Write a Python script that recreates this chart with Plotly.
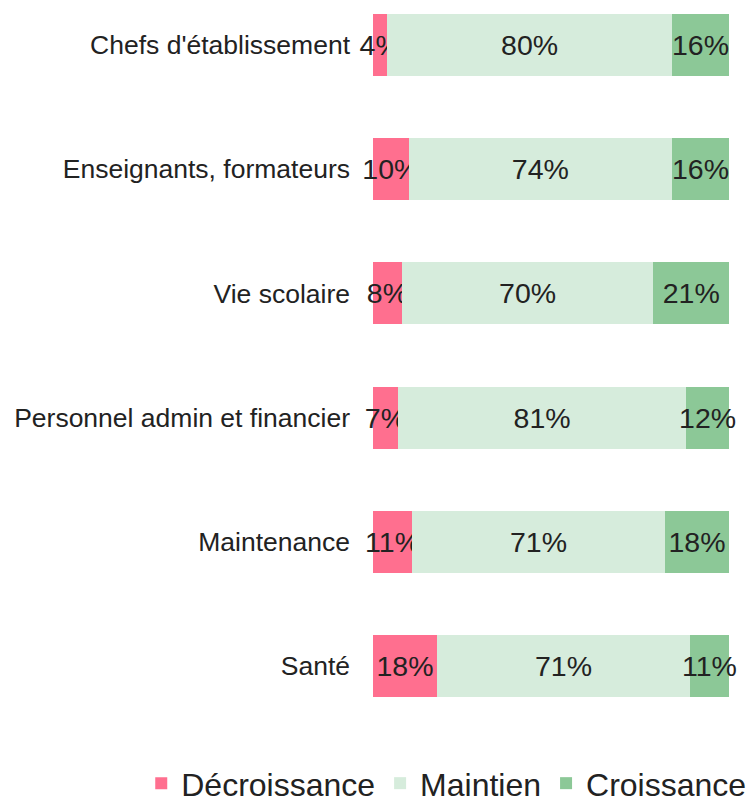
import plotly.graph_objects as go

categories = ["Chefs d'établissement", "Enseignants, formateurs", "Vie scolaire",
              "Personnel admin et financier", "Maintenance", "Santé"]
decroissance = [4, 10, 8, 7, 11, 18]
maintien = [80, 74, 70, 81, 71, 71]
croissance = [16, 16, 21, 12, 18, 11]

series = [("Décroissance", decroissance, "#FF6F8F"),
          ("Maintien", maintien, "#D6ECDC"),
          ("Croissance", croissance, "#8CC897")]

FONT = "Liberation Sans, Arial, sans-serif"
fig = go.Figure()
for name, vals, col in series:
    fig.add_trace(go.Bar(
        y=categories, x=vals, name=name, orientation="h",
        marker=dict(color=col, line=dict(width=0)),
        text=[f"{v}%" for v in vals], textposition="inside",
        insidetextanchor="middle", constraintext="none", textangle=0,
        insidetextfont=dict(size=28.5, color="#222222", family=FONT),
        cliponaxis=False, width=0.5,
    ))

fig.update_layout(
    barmode="stack", barnorm="percent",
    width=748, height=797,
    margin=dict(l=373, r=19, t=0, b=77, autoexpand=False),
    plot_bgcolor="white", paper_bgcolor="white",
    font=dict(family=FONT, size=27, color="#222222"),
    showlegend=True,
    legend=dict(orientation="h", xref="paper", x=-0.651, xanchor="left",
                yref="paper", y=-0.088, yanchor="middle",
                bgcolor="rgba(0,0,0,0)",
                font=dict(size=32, color="#222222"), traceorder="normal",
                itemwidth=30, tracegroupgap=0),
    uniformtext=dict(mode=False),
)
fig.update_xaxes(range=[0, 100.001], visible=False, showgrid=False, zeroline=False)
fig.update_yaxes(categoryorder="array", categoryarray=categories,
                 range=[5.435, -0.362], showgrid=False, zeroline=False,
                 showline=False, ticks="", ticklabelstandoff=22,
                 tickfont=dict(size=26.5, color="#222222", family=FONT))

fig.write_html("out.html")
